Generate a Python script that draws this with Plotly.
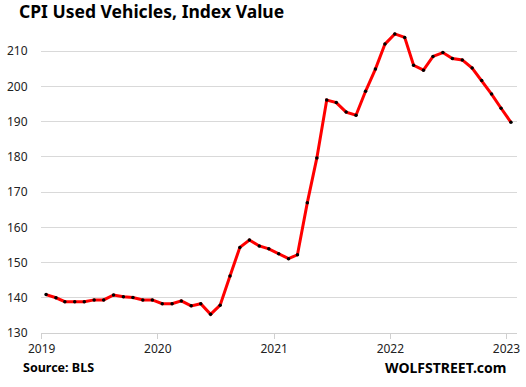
import plotly.graph_objects as go
import pandas as pd

# Monthly CPI Used Vehicles index, Jan 2019 - Jan 2023 (plotted mid-month)
months = pd.date_range("2019-01-01", periods=49, freq="MS") + pd.Timedelta(days=14)
values = [
    140.9, 140.0, 138.9, 138.9, 138.9, 139.4, 139.4, 140.8, 140.3, 140.1, 139.4, 139.4,
    138.3, 138.3, 139.1, 137.7, 138.3, 135.3, 137.9, 146.2, 154.3, 156.4, 154.7, 153.9,
    152.5, 151.1, 152.2, 167.0, 179.7, 196.1, 195.4, 192.7, 191.8, 198.6, 204.9, 212.0,
    214.9, 213.9, 206.0, 204.6, 208.5, 209.6, 207.9, 207.5, 205.2, 201.7, 197.8, 193.8,
    189.8,
]
y_ticks = [130, 140, 150, 160, 170, 180, 190, 200, 210]
title_text = "CPI Used Vehicles, Index Value"
source_text = "Source: BLS"
brand_text = "WOLFSTREET.com"

W, H = 526, 387
L, R, T, B = 41, 9.3, 29.5, 53.7
pw = W - L - R
ph = H - T - B

fig = go.Figure()
fig.add_trace(go.Scatter(
    x=months, y=values, mode="lines+markers",
    line=dict(color="#ff0000", width=3),
    marker=dict(color="#000000", size=3.5),
    hoverinfo="skip",
))

font_main = "Noto Sans, Open Sans, sans-serif"

fig.update_layout(
    width=W, height=H,
    margin=dict(l=L, r=R, t=T, b=B, autoexpand=False),
    paper_bgcolor="white", plot_bgcolor="white",
    showlegend=False,
    font=dict(family=font_main, color="#222222", size=12),
    title=dict(
        text="<b>" + title_text + "</b>",
        x=19 / W, xref="container", xanchor="left",
        y=1 - 12 / H, yref="container", yanchor="middle",
        font=dict(size=17.5, color="#000000", family=font_main),
    ),
    xaxis=dict(
        type="date", automargin=False,
        range=["2018-12-30", "2023-02-03"],
        dtick="M12", tick0="2019-01-01", tickformat="%Y",
        showgrid=False, zeroline=False,
        showline=True, linecolor="#d0d0d0", linewidth=1,
        ticks="outside", ticklen=5, tickcolor="#d0d0d0",
        tickfont=dict(size=12, color="#222222"),
    ),
    yaxis=dict(
        range=[130, 216], automargin=False,
        tickvals=y_ticks,
        showgrid=True, gridcolor="#d9d9d9", gridwidth=1,
        zeroline=False, showline=False,
        ticks="outside", ticklen=10, tickcolor="rgba(0,0,0,0)",
        tickfont=dict(size=12, color="#222222"),
    ),
)

fig.add_annotation(
    text="<b>" + source_text + "</b>", xref="paper", yref="paper",
    x=(21 - L) / pw, y=(H - B - 368) / ph, xanchor="left", yanchor="middle",
    showarrow=False, font=dict(size=12.5, color="#000000", family=font_main),
)
fig.add_annotation(
    text="<b>" + brand_text + "</b>", xref="paper", yref="paper",
    x=(508 - L) / pw, y=(H - B - 368) / ph, xanchor="right", yanchor="middle",
    showarrow=False, font=dict(size=14, color="#000000", family=font_main),
)

fig.write_html(
    "out.html",
    config={"displayModeBar": False, "staticPlot": True},
    post_script="document.body.style.margin='0';document.body.style.padding='0';",
)
